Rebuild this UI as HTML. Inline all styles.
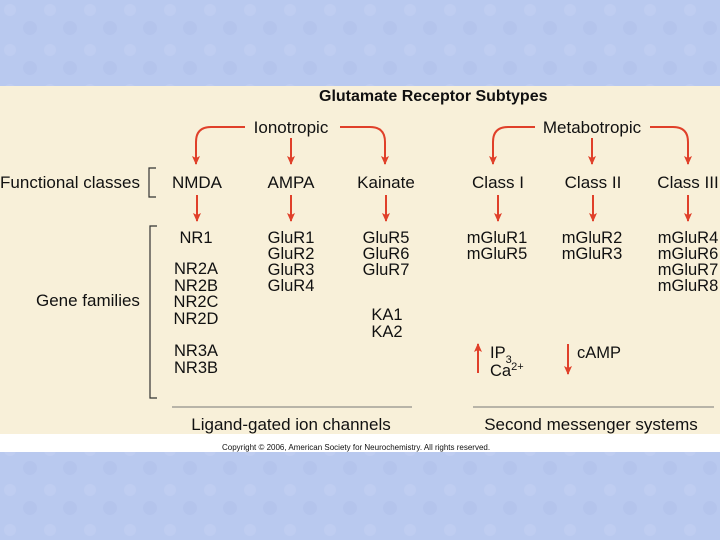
<!DOCTYPE html>
<html><head><style>
html,body{margin:0;padding:0;width:720px;height:540px;overflow:hidden;background:#b9c9ef;}
svg{display:block}
</style></head><body>
<svg width="720" height="540" xmlns="http://www.w3.org/2000/svg" font-family="Liberation Sans, sans-serif">
<defs>
<pattern id="p" width="40" height="40" patternUnits="userSpaceOnUse">
<rect width="40" height="40" fill="#b9c9ef"/>
<circle cx="10" cy="10" r="6" fill="#c3d0f2" opacity=".6"/>
<circle cx="30" cy="28" r="7" fill="#b0c0ea" opacity=".5"/>
</pattern>
<marker id="a" markerWidth="10" markerHeight="10" refX="8" refY="4" orient="auto" markerUnits="userSpaceOnUse">
<path d="M0,0 L9,4 L0,8 L2,4 Z" fill="#e0402a"/>
</marker>
</defs>
<rect width="720" height="540" fill="url(#p)"/>
<rect x="0" y="86" width="720" height="348" fill="#f8f0d9"/>
<rect x="0" y="434" width="720" height="18" fill="#fff"/>
<text x="319" y="101" font-size="16" font-weight="bold" fill="#111">Glutamate Receptor Subtypes</text>
<g font-size="17" fill="#111" text-anchor="middle">
<text x="291" y="133">Ionotropic</text>
<text x="592" y="133">Metabotropic</text>
<text x="197" y="188">NMDA</text>
<text x="291" y="188">AMPA</text>
<text x="386" y="188">Kainate</text>
<text x="498" y="188">Class I</text>
<text x="593" y="188">Class II</text>
<text x="688" y="188">Class III</text>
<text x="291" y="430">Ligand-gated ion channels</text>
<text x="591" y="430">Second messenger systems</text>
</g>
<g font-size="17" fill="#111">
<text x="0" y="188" textLength="140">Functional classes</text>
<text x="36" y="306">Gene families</text>
</g>
<g font-size="16.5" fill="#111" text-anchor="middle">
<text x="196" y="243">NR1</text>
<text x="196" y="274">NR2A</text><text x="196" y="291">NR2B</text><text x="196" y="307">NR2C</text><text x="196" y="324">NR2D</text>
<text x="196" y="356">NR3A</text><text x="196" y="373">NR3B</text>
<text x="291" y="243">GluR1</text><text x="291" y="259">GluR2</text><text x="291" y="275">GluR3</text><text x="291" y="291">GluR4</text>
<text x="386" y="243">GluR5</text><text x="386" y="259">GluR6</text><text x="386" y="275">GluR7</text>
<text x="387" y="320">KA1</text><text x="387" y="337">KA2</text>
<text x="497" y="243">mGluR1</text><text x="497" y="259">mGluR5</text>
<text x="592" y="243">mGluR2</text><text x="592" y="259">mGluR3</text>
<text x="688" y="243">mGluR4</text><text x="688" y="259">mGluR6</text><text x="688" y="275">mGluR7</text><text x="688" y="291">mGluR8</text>
</g>
<g font-size="16.5" fill="#111">
<text x="490" y="358">IP<tspan font-size="11" dy="5">3</tspan></text>
<text x="490" y="376">Ca<tspan font-size="11" dy="-6">2+</tspan></text>
<text x="577" y="358">cAMP</text>
</g>
<g stroke="#e0402a" stroke-width="2" fill="none" marker-end="url(#a)">
<path d="M245,127 H211 Q196,127 196,142 V164"/>
<path d="M291,138 V164"/>
<path d="M340,127 H370 Q385,127 385,142 V164"/>
<path d="M535,127 H508 Q493,127 493,142 V164"/>
<path d="M592,138 V164"/>
<path d="M650,127 H673 Q688,127 688,142 V164"/>
<path d="M197,195 V221"/><path d="M291,195 V221"/><path d="M386,195 V221"/>
<path d="M498,195 V221"/><path d="M593,195 V221"/><path d="M688,195 V221"/>
<path d="M478,373 V344"/>
<path d="M568,344 V374"/>
</g>
<g stroke="#333" stroke-width="1.2" fill="none">
<path d="M156,168 H149 V197 H156"/>
<path d="M157,226 H150 V398 H157"/>
</g>
<g stroke="#777" stroke-width="1">
<line x1="172" y1="407" x2="412" y2="407"/>
<line x1="473" y1="407" x2="714" y2="407"/>
</g>
<text x="222" y="450" font-size="8" fill="#111">Copyright © 2006, American Society for Neurochemistry. All rights reserved.</text>
</svg>
</body></html>
